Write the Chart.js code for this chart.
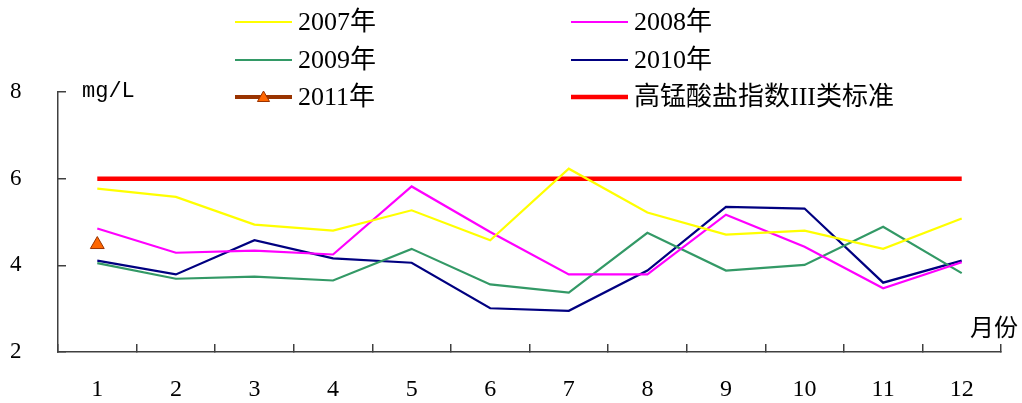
<!DOCTYPE html>
<html><head><meta charset="utf-8">
<script src="https://cdn.jsdelivr.net/npm/chart.js@4"></script>
<style>html,body{margin:0;padding:0;background:#fff;overflow:hidden}</style>
</head><body>
<canvas id="c" width="1022" height="403"></canvas>
<script>
// ---- data ----
const months = ['1','2','3','4','5','6','7','8','9','10','11','12'];
const y2007 = [5.77, 5.58, 4.94, 4.80, 5.27, 4.58, 6.23, 5.22, 4.71, 4.80, 4.38, 5.08];
const y2008 = [4.85, 4.29, 4.34, 4.25, 5.82, 4.77, 3.79, 3.79, 5.17, 4.43, 3.47, 4.07];
const y2009 = [4.05, 3.69, 3.74, 3.65, 4.38, 3.56, 3.37, 4.75, 3.88, 4.01, 4.89, 3.82];
const y2010 = [4.11, 3.79, 4.58, 4.16, 4.06, 3.01, 2.95, 3.88, 5.35, 5.31, 3.60, 4.11];
const y2011 = [4.48, null, null, null, null, null, null, null, null, null, null, null];
const yStandard = [6, 6, 6, 6, 6, 6, 6, 6, 6, 6, 6, 6];
const yTicks = [2, 4, 6, 8];
const seriesNames = ['2007年', '2008年', '2009年', '2010年', '2011年', '高锰酸盐指数III类标准'];
const unitLabel = 'mg/L';
const xAxisLabel = '月份';

const serif = "'Liberation Serif', 'Noto Sans CJK SC', serif";
const axisColor = '#404040';

const legendSlots = [
  {x: 235, y: 22}, {x: 571, y: 22},
  {x: 235, y: 60}, {x: 571, y: 60},
  {x: 235, y: 97}, {x: 571, y: 97}
];

const extrasPlugin = {
  id: 'extras',
  afterDraw(chart) {
    const ctx = chart.ctx;
    ctx.save();
    // legend
    chart.data.datasets.forEach((ds, i) => {
      const s = legendSlots[i];
      ctx.strokeStyle = ds.borderColor;
      ctx.lineWidth = ds.legendLineWidth || ds.borderWidth;
      ctx.lineCap = 'butt';
      ctx.beginPath();
      ctx.moveTo(s.x, s.y);
      ctx.lineTo(s.x + 57, s.y);
      ctx.stroke();
      if (ds.pointStyle === 'triangle') {
        const r = 7, cx = s.x + 28.5, cy = s.y + 1;
        ctx.beginPath();
        ctx.moveTo(cx, cy - r);
        ctx.lineTo(cx + r * Math.sqrt(3) / 2, cy + r / 2);
        ctx.lineTo(cx - r * Math.sqrt(3) / 2, cy + r / 2);
        ctx.closePath();
        ctx.fillStyle = ds.pointBackgroundColor;
        ctx.fill();
        ctx.lineWidth = 1;
        ctx.strokeStyle = ds.pointBorderColor;
        ctx.stroke();
      }
      ctx.fillStyle = '#000';
      ctx.font = "26px " + serif;
      ctx.textBaseline = 'middle';
      ctx.textAlign = 'left';
      ctx.fillText(ds.label, s.x + 63, s.y + 1);
    });
    // unit label
    ctx.font = "22px 'Liberation Mono', monospace";
    ctx.textBaseline = 'alphabetic';
    ctx.fillStyle = '#000';
    ctx.fillText(unitLabel, 82, 97);
    // x axis title
    ctx.font = "24px 'Noto Sans CJK SC', sans-serif";
    ctx.textBaseline = 'middle';
    ctx.fillText(xAxisLabel, 970, 327);
    ctx.restore();
  }
};

new Chart(document.getElementById('c'), {
  type: 'line',
  data: {
    labels: months,
    datasets: [
      {label: seriesNames[0], data: y2007, borderColor: '#FFFF00', borderWidth: 2.2, pointRadius: 0, order: 2},
      {label: seriesNames[1], data: y2008, borderColor: '#FF00FF', borderWidth: 2.2, pointRadius: 0, order: 2},
      {label: seriesNames[2], data: y2009, borderColor: '#339966', borderWidth: 2.2, pointRadius: 0, order: 2},
      {label: seriesNames[3], data: y2010, borderColor: '#000080', borderWidth: 2.2, pointRadius: 0, order: 2},
      {label: seriesNames[4], data: y2011, borderColor: '#993300', borderWidth: 3, legendLineWidth: 4,
        pointStyle: 'triangle', pointRadius: 8, pointBackgroundColor: '#FF6600', pointBorderColor: '#993300', pointBorderWidth: 1, order: 1},
      {label: seriesNames[5], data: yStandard, borderColor: '#FF0000', borderWidth: 4.5, legendLineWidth: 4.5, pointRadius: 0, order: 3}
    ]
  },
  options: {
    responsive: false,
    animation: false,
    events: [],
    layout: {padding: {top: 92, right: 21, left: 10, bottom: 0}},
    plugins: {legend: {display: false}, tooltip: {enabled: false}, title: {display: false}},
    elements: {line: {tension: 0}},
    scales: {
      x: {
        offset: true,
        grid: {offset: true, drawOnChartArea: false, drawTicks: true, tickLength: -8, color: axisColor, lineWidth: 1.5},
        border: {display: true, color: axisColor, width: 1.5},
        ticks: {color: '#000', font: {family: serif, size: 24}, padding: 31, maxRotation: 0, autoSkip: false},
        afterFit(scale) { scale.height = 51; }
      },
      y: {
        min: 2, max: 8,
        afterBuildTicks(scale) { scale.ticks = yTicks.map(v => ({value: v})); },
        grid: {drawOnChartArea: false, drawTicks: true, tickLength: -8, color: axisColor, lineWidth: 1.5},
        border: {display: true, color: axisColor, width: 1.5},
        ticks: {color: '#000', font: {family: serif, size: 23}, padding: 0, crossAlign: 'far'},
        afterFit(scale) { scale.width = 48; }
      }
    }
  },
  plugins: [extrasPlugin]
});
</script>
</body></html>
